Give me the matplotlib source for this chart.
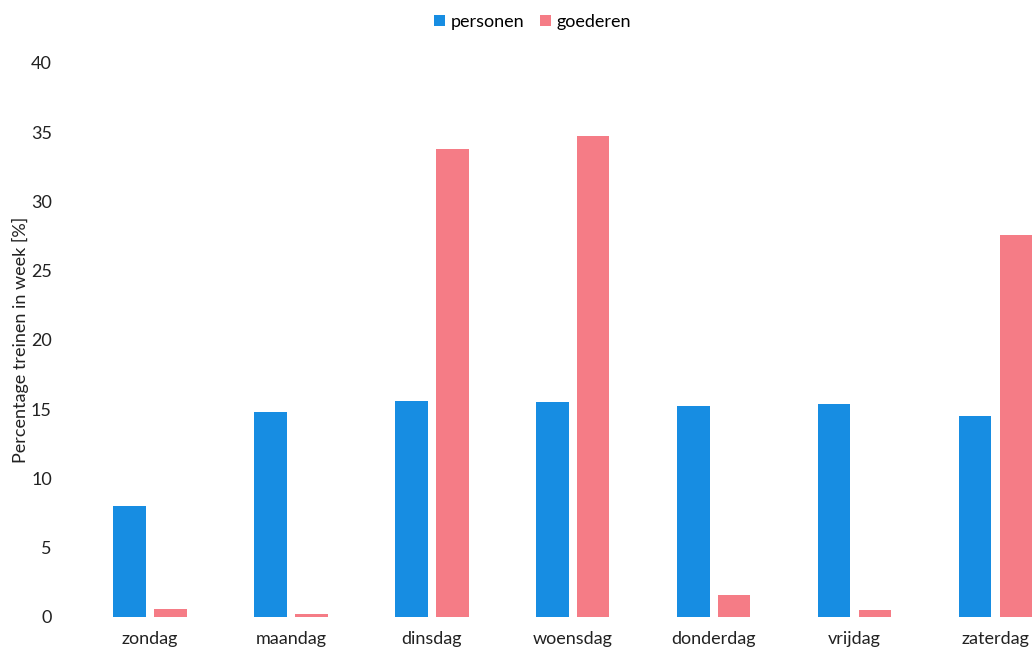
import numpy as np
import matplotlib.pyplot as plt

dagen = ['zondag', 'maandag', 'dinsdag', 'woensdag', 'donderdag', 'vrijdag', 'zaterdag']
personen = [8.0, 14.8, 15.6, 15.5, 15.2, 15.4, 14.5]
goederen = [0.6, 0.2, 33.8, 34.7, 1.6, 0.5, 27.6]
yticks = [0, 5, 10, 15, 20, 25, 30, 35, 40]

plt.rcParams['font.family'] = ['Lato', 'DejaVu Sans']

fig = plt.figure(figsize=(10.34, 6.61), dpi=100)
ax = fig.add_axes([0.077, 0.0666, 0.954, 0.8384])

x = np.arange(len(dagen))
w = 0.23
ax.bar(x - 0.145, personen, w, color='#178de2', label='personen')
ax.bar(x + 0.145, goederen, w, color='#f57c86', label='goederen')

ax.set_xlim(-0.5, len(dagen) - 0.5)
ax.set_ylim(0, 40)
ax.set_yticks(yticks)
ax.set_xticks(x)
ax.set_xticklabels(dagen)
ax.tick_params(length=0, labelsize=13, colors='#222222', pad=10)
ax.tick_params(axis='y', pad=20)
for s in ax.spines.values():
    s.set_visible(False)

fig.text(0.02, 0.0666 + 0.8384 / 2, 'Percentage treinen in week [%]', rotation=90,
         ha='center', va='center', fontsize=13, color='#222222')

fig.legend(loc='upper center', bbox_to_anchor=(0.515, 1.004), ncol=2, frameon=False,
           fontsize=13, handlelength=0.6, handleheight=0.6, handletextpad=0.3,
           columnspacing=0.9)

plt.savefig('out.png', dpi=100)
